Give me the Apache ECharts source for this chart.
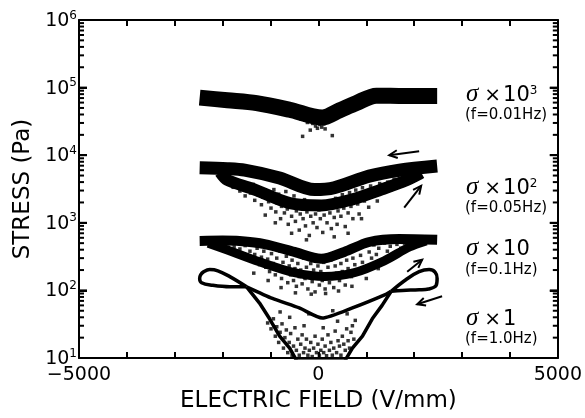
<!DOCTYPE html>
<html>
<head>
<meta charset="utf-8">
<script src="https://cdn.jsdelivr.net/npm/echarts@6.0.0/dist/echarts.min.js"></script>
<style>
  html, body { margin: 0; padding: 0; background: #fff; }
  #chart { width: 585px; height: 418px; }
</style>
</head>
<body>
<div id="chart"></div>
<script>
// tick labels
var xLabelValues = [-5000, 0, 5000];
var yDecades = [10, 100, 1000, 10000, 100000, 1000000];
// y ticks drawn on both frame sides: [value, length]
var yTickMarks = [];
for (var d = 0; d < yDecades.length; d++) {
    yTickMarks.push([yDecades[d], 8]);
    if (d < yDecades.length - 1) {
        for (var k = 2; k <= 9; k++) yTickMarks.push([yDecades[d] * k, 5]);
    }
}

// f=0.01Hz (sigma x 10^3)
var band001 = [[-2480, 71000], [-1900, 65000], [-1290, 59000], [-600, 47000], [80, 36000], [440, 46000], [790, 59000], [1210, 76000], [1800, 75000], [2480, 75000]];
var cloud001 = [[-2210, 61000], [-1870, 56000], [-1520, 52000], [-1130, 49000], [-920, 47500], [-760, 43000], [-610, 40500], [-530, 38000], [-440, 36500], [-370, 34500], [-330, 19000], [-280, 33000], [-230, 30500], [-170, 23500], [-120, 29500], [-60, 27000], [-20, 25000], [30, 28500], [70, 26000], [110, 29000], [140, 24500], [180, 31000], [240, 33500], [290, 19500], [360, 37500], [470, 41000], [610, 50000], [1390, 64000], [2310, 62000]];

// f=0.05Hz (sigma x 10^2)
var upper005 = [[-2480, 6500], [-1900, 6300], [-1540, 6000], [-810, 4600], [-80, 3100], [330, 3300], [1060, 4900], [1690, 6000], [2480, 6900]];
var lower005 = [[-2050, 5600], [-1900, 4300], [-1380, 3200], [-600, 1950], [60, 1800], [690, 2200], [1310, 3100], [1850, 4300], [2150, 5500]];
var cloud005 = [[-1870, 3900], [-1780, 3350], [-1720, 4100], [-1640, 2950], [-1590, 3600], [-1530, 2500], [-1470, 3150], [-1420, 2750], [-1360, 3700], [-1330, 2150], [-1270, 2600], [-1240, 3050], [-1190, 1850], [-1160, 2400], [-1110, 1300], [-1080, 2800], [-1040, 2050], [-990, 1650], [-960, 2450], [-930, 3100], [-890, 1450], [-860, 1950], [-830, 2650], [-790, 1150], [-770, 1750], [-740, 2250], [-710, 1400], [-680, 2900], [-650, 1600], [-630, 950], [-590, 2100], [-560, 1250], [-540, 1800], [-510, 2500], [-480, 1050], [-460, 1500], [-430, 2000], [-400, 780], [-380, 1350], [-350, 1700], [-320, 1150], [-290, 2200], [-270, 900], [-240, 1450], [-210, 1800], [-190, 650], [-160, 1250], [-130, 1600], [-110, 1000], [-80, 2050], [-60, 1350], [-30, 850], [10, 1550], [40, 1150], [70, 1850], [90, 720], [120, 1300], [150, 1650], [180, 1000], [210, 2050], [240, 1400], [270, 820], [300, 1750], [330, 1200], [360, 2300], [390, 950], [410, 1500], [440, 1950], [470, 1250], [500, 2600], [530, 1650], [560, 880], [590, 2100], [620, 1400], [650, 2800], [680, 1750], [720, 1150], [750, 2350], [780, 3050], [820, 1900], [850, 1350], [880, 2600], [920, 3300], [960, 2100], [1000, 2900], [1050, 1700], [1090, 3500], [1130, 2500], [1180, 3100], [1230, 2100], [1280, 3800], [1330, 2800], [1390, 3400], [1450, 4000], [1520, 3100], [1580, 4400], [-250, 560], [330, 620], [-560, 700], [620, 700], [-900, 1000], [900, 1150]];

// f=0.1Hz (sigma x 10)
var upper01 = [[-2480, 540], [-2000, 545], [-1650, 537], [-1125, 485], [-500, 371], [60, 293], [540, 371], [1060, 520], [1690, 575], [2480, 560]];
var lower01 = [[-2300, 500], [-1960, 410], [-1230, 265], [-500, 183], [125, 160], [750, 183], [1375, 274], [1900, 439], [2250, 540]];
var cloud01 = [[-2050, 470], [-1960, 430], [-1890, 490], [-1820, 380], [-1760, 440], [-1700, 350], [-1640, 410], [-1580, 320], [-1530, 460], [-1480, 300], [-1430, 380], [-1370, 270], [-1330, 340], [-1280, 420], [-1230, 240], [-1190, 310], [-1140, 380], [-1100, 220], [-1060, 290], [-1020, 190], [-980, 350], [-940, 250], [-900, 170], [-870, 300], [-830, 210], [-800, 380], [-770, 150], [-740, 260], [-700, 190], [-670, 320], [-640, 130], [-610, 230], [-580, 170], [-550, 280], [-520, 140], [-490, 210], [-460, 115], [-430, 250], [-400, 160], [-370, 200], [-340, 125], [-310, 300], [-280, 150], [-250, 220], [-220, 105], [-190, 180], [-160, 250], [-130, 135], [-100, 200], [-70, 95], [-40, 165], [-10, 230], [20, 120], [50, 190], [80, 140], [110, 260], [140, 105], [170, 175], [200, 220], [230, 130], [260, 280], [290, 160], [320, 110], [350, 230], [380, 180], [410, 310], [440, 140], [470, 250], [500, 190], [530, 350], [560, 120], [590, 280], [620, 210], [650, 390], [690, 160], [720, 300], [760, 240], [800, 420], [840, 190], [880, 330], [920, 260], [960, 450], [1010, 230], [1060, 370], [1110, 300], [1160, 470], [1210, 340], [1260, 420], [1320, 280], [1380, 500], [1440, 380], [1500, 450], [1570, 350], [1640, 480], [1720, 420], [1800, 500], [1880, 450], [-1050, 140], [-780, 110], [-480, 92], [-150, 88], [150, 90], [420, 98], [700, 115], [1000, 150], [-1350, 180], [1250, 210]];

// f=1.0Hz (sigma x 1)
var loopL1 = [[-1500, 113], [-1850, 160], [-2100, 195], [-2270, 203], [-2400, 188], [-2460, 170], [-2480, 150], [-2440, 130], [-2210, 119], [-1850, 113], [-1500, 113]];
var loopR1 = [[1520, 97], [1833, 145], [2104, 189], [2313, 203], [2440, 185], [2479, 150], [2458, 118], [2300, 105], [2104, 102], [1750, 100], [1520, 97]];
var shallowV1 = [[-1500, 113], [-960, 76], [-400, 55], [80, 39], [710, 55], [1420, 88], [1520, 97]];
var deepV1 = [[-1500, 113], [-1230, 65], [-1020, 38], [-810, 21], [-600, 14], [-450, 9], [550, 9], [710, 14], [920, 21], [1125, 38], [1330, 60], [1520, 97]];
var cloud1 = [[-1060, 33], [-990, 27], [-940, 38], [-900, 21], [-870, 29], [-830, 17], [-800, 24], [-760, 32], [-730, 14], [-700, 20], [-670, 26], [-640, 12], [-610, 17], [-580, 23], [-550, 11], [-520, 15], [-490, 28], [-460, 13], [-430, 19], [-400, 11], [-370, 16], [-340, 22], [-310, 12], [-280, 14], [-250, 19], [-220, 11], [-190, 13], [-160, 17], [-130, 10.5], [-100, 14], [-70, 21], [-40, 12], [-10, 16], [20, 11], [50, 13], [80, 19], [110, 12], [140, 15], [170, 10.8], [200, 22], [230, 13], [260, 17], [290, 11], [320, 14], [350, 25], [380, 12], [410, 18], [440, 15], [470, 11], [500, 21], [530, 16], [560, 13], [590, 27], [620, 18], [650, 14], [680, 24], [710, 30], [740, 19], [770, 36], [-300, 30], [100, 28], [400, 35], [-600, 40], [-200, 45], [300, 50], [-800, 48], [600, 45]];

// arrows: x1, y1, x2, y2 (head at x2, y2)
var arrows = [[2104, 11400, 1479, 10000], [1792, 1680, 2146, 3520], [1854, 189, 2167, 284], [2583, 82, 2063, 62.5]];

var FONT = 'DejaVu Sans';
var X_MIN = -5000, X_MAX = 5000;

function lineSeries(data, width, smooth) {
    return {
        type: 'line', data: data, symbol: 'none', smooth: smooth,
        lineStyle: {color: '#000', width: width, cap: 'butt', join: 'round'},
        silent: true, animation: false
    };
}

function dotSeries(data) {
    return {
        type: 'scatter', data: data, symbol: 'rect', symbolSize: 3.5,
        itemStyle: {color: '#000'}, silent: true, animation: false
    };
}

// arrow with open head
function arrowItem(params, api) {
    var p1 = api.coord([api.value(0), api.value(1)]);
    var p2 = api.coord([api.value(2), api.value(3)]);
    var a = Math.atan2(p2[1] - p1[1], p2[0] - p1[0]);
    var h = 9, s = 0.45;
    var l = [p2[0] - h * Math.cos(a - s), p2[1] - h * Math.sin(a - s)];
    var r = [p2[0] - h * Math.cos(a + s), p2[1] - h * Math.sin(a + s)];
    return {
        type: 'group',
        children: [
            {type: 'line', shape: {x1: p1[0], y1: p1[1], x2: p2[0], y2: p2[1]}, style: {stroke: '#000', lineWidth: 2}},
            {type: 'polyline', shape: {points: [l, p2, r]}, style: {stroke: '#000', fill: null, lineWidth: 2}}
        ]
    };
}

var chart = echarts.init(document.getElementById('chart'), null, {renderer: 'canvas'});

var option = {
    backgroundColor: '#fff',
    animation: false,
    grid: {left: 79, right: 26, top: 20, bottom: 56, containLabel: false},
    xAxis: [{
        type: 'value', min: X_MIN, max: X_MAX, interval: 1000, position: 'bottom',
        axisLine: {onZero: false, lineStyle: {color: '#000', width: 2}},
        axisTick: {inside: true, length: 6, lineStyle: {color: '#000', width: 2}},
        splitLine: {show: false},
        axisLabel: {
            showMinLabel: true, showMaxLabel: true, margin: 8,
            color: '#000', fontFamily: FONT, fontSize: 19,
            formatter: function (v) {
                if (xLabelValues.indexOf(v) < 0) return '';
                return v < 0 ? '\u2212' + Math.abs(v) : String(v);
            }
        },
        name: 'ELECTRIC FIELD (V/mm)', nameLocation: 'middle', nameGap: 32,
        nameTextStyle: {color: '#000', fontFamily: FONT, fontSize: 23}
    }, {
        type: 'value', min: X_MIN, max: X_MAX, interval: 1000, position: 'top',
        axisLine: {onZero: false, lineStyle: {color: '#000', width: 2}},
        axisTick: {inside: true, length: 6, lineStyle: {color: '#000', width: 2}},
        axisLabel: {show: false}, splitLine: {show: false}
    }],
    yAxis: [{
        type: 'log', logBase: 10, min: 10, max: 1000000, position: 'left',
        splitLine: {show: false},
        axisLine: {show: true, onZero: false, lineStyle: {color: '#000', width: 2}},
        axisTick: {show: true, inside: true, length: 8, lineStyle: {color: '#000', width: 2}},
        axisLabel: {
            margin: 2, color: '#000',
            formatter: function (v) {
                return '{b|10}{s|' + Math.round(Math.log10(v)) + '}';
            },
            rich: {
                b: {fontFamily: FONT, fontSize: 19, color: '#000', verticalAlign: 'bottom'},
                s: {fontFamily: FONT, fontSize: 12, color: '#000', verticalAlign: 'bottom', padding: [0, 0, 9, 0]}
            }
        },
        name: 'STRESS (Pa)', nameLocation: 'middle', nameGap: 42,
        nameTextStyle: {color: '#000', fontFamily: FONT, fontSize: 23}
    }, {
        type: 'log', logBase: 10, min: 10, max: 1000000, position: 'right',
        splitLine: {show: false},
        axisLine: {show: true, onZero: false, lineStyle: {color: '#000', width: 2}},
        axisTick: {show: true, inside: true, length: 8, lineStyle: {color: '#000', width: 2}},
        axisLabel: {show: false}
    }],
    series: [
        lineSeries(band001, 16, 0.3),
        dotSeries(cloud001),
        lineSeries(upper005, 13, 0.3),
        lineSeries(lower005, 12, 0.3),
        dotSeries(cloud005),
        lineSeries(upper01, 10, 0.3),
        lineSeries(lower01, 9, 0.3),
        dotSeries(cloud01),
        lineSeries(loopL1, 3.5, 0.4),
        lineSeries(loopR1, 3.5, 0.4),
        lineSeries(shallowV1, 3.5, 0.2),
        lineSeries(deepV1, 3.5, false),
        dotSeries(cloud1),
        {
            type: 'custom', data: arrows, renderItem: arrowItem,
            encode: {x: [0, 2], y: [1, 3]}, silent: true, animation: false, clip: false
        }
    ]
};

chart.setOption(option);

var graphics = [];

// inward y ticks on left and right frame, placed through the axis scale
var gridRect = chart.getModel().getComponent('grid', 0).coordinateSystem.getRect();
yTickMarks.forEach(function (t) {
    var py = chart.convertToPixel({yAxisIndex: 0}, t[0]);
    var xl = gridRect.x, xr = gridRect.x + gridRect.width;
    graphics.push({type: 'rect', silent: true, z: 100, shape: {x: xl, y: py - 1, width: t[1], height: 2}, style: {fill: '#000'}});
    graphics.push({type: 'rect', silent: true, z: 100, shape: {x: xr - t[1], y: py - 1, width: t[1], height: 2}, style: {fill: '#000'}});
});

// right side labels
var labelRich = {
    g: {fontFamily: 'Liberation Serif', fontStyle: 'italic', fontSize: 25, color: '#000', verticalAlign: 'bottom'},
    x: {fontFamily: FONT, fontSize: 20, color: '#000', verticalAlign: 'bottom', padding: [0, 2, 1, 6]},
    n: {fontFamily: FONT, fontSize: 21, color: '#000', verticalAlign: 'bottom'},
    p: {fontFamily: FONT, fontSize: 12, color: '#000', verticalAlign: 'bottom', padding: [0, 0, 10, 0]}
};
var sigmaLabels = [
    {t: '{g|\u03c3}{x|\u00d7}{n|10}{p|3}', f: '(f=0.01Hz)', y: 94, fy: 115},
    {t: '{g|\u03c3}{x|\u00d7}{n|10}{p|2}', f: '(f=0.05Hz)', y: 187, fy: 208},
    {t: '{g|\u03c3}{x|\u00d7}{n|10}', f: '(f=0.1Hz)', y: 248, fy: 270},
    {t: '{g|\u03c3}{x|\u00d7}{n|1}', f: '(f=1.0Hz)', y: 318, fy: 339}
];
sigmaLabels.forEach(function (s) {
    graphics.push({
        type: 'text', x: 466, y: s.y, silent: true,
        style: {text: s.t, rich: labelRich, verticalAlign: 'middle', align: 'left'}
    });
    graphics.push({
        type: 'text', x: 465, y: s.fy, silent: true,
        style: {text: s.f, fontFamily: FONT, fontSize: 15, fill: '#000', verticalAlign: 'middle', align: 'left'}
    });
});

chart.setOption({graphic: graphics});
</script>
</body>
</html>
